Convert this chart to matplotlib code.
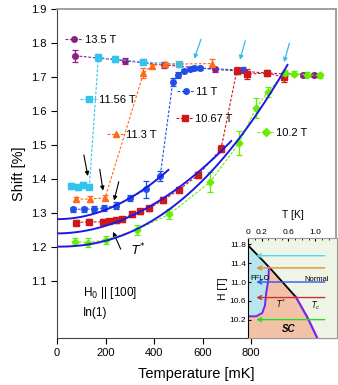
import numpy as np
import matplotlib
matplotlib.use('Agg')
import matplotlib.pyplot as plt
from matplotlib.lines import Line2D
from matplotlib.legend import Legend

plt.rcParams['font.family'] = ['Liberation Sans', 'DejaVu Sans']

# ---- data (T in mK, shift in %) ----
t_135 = [74, 280, 441, 652, 867, 1016, 1060]
s_135 = [1.762, 1.747, 1.735, 1.722, 1.711, 1.706, 1.704]
e_135 = [0.017, 0.008, 0.008, 0.007, 0.007, 0.006, 0.006]

t_1156 = [58, 88, 108, 133, 170, 239, 353, 503]
s_1156 = [1.378, 1.376, 1.381, 1.377, 1.757, 1.752, 1.744, 1.737]
e_1156 = [0.008, 0.008, 0.008, 0.008, 0.01, 0.008, 0.008, 0.008]

t_113 = [78, 136, 198, 356, 390, 445, 640]
s_113 = [1.340, 1.340, 1.344, 1.710, 1.733, 1.737, 1.739]
e_113 = [0.006, 0.008, 0.008, 0.015, 0.006, 0.006, 0.012]

t_11 = [67, 111, 154, 195, 243, 301, 367, 425, 477, 499, 525, 546, 566, 590, 765]
s_11 = [1.310, 1.310, 1.311, 1.314, 1.321, 1.343, 1.369, 1.408, 1.685, 1.705,
        1.717, 1.722, 1.725, 1.725, 1.720]
e_11 = [0.008, 0.008, 0.008, 0.008, 0.01, 0.01, 0.025, 0.015, 0.012, 0.01,
        0.006, 0.006, 0.006, 0.006, 0.01]

t_1067 = [78, 133, 188, 216, 243, 267, 309, 343, 379, 438, 503, 583, 676,
          741, 785, 866, 936]
s_1067 = [1.271, 1.273, 1.273, 1.276, 1.277, 1.281, 1.296, 1.304, 1.313, 1.337,
          1.368, 1.411, 1.488, 1.718, 1.708, 1.711, 1.699]
e_1067 = [0.008, 0.007, 0.007, 0.006, 0.006, 0.007, 0.008, 0.008, 0.008, 0.008,
          0.008, 0.008, 0.01, 0.01, 0.015, 0.008, 0.015]

t_102 = [72, 129, 201, 329, 462, 631, 751, 820, 869, 940, 978, 1030, 1085]
s_102 = [1.215, 1.212, 1.220, 1.250, 1.295, 1.390, 1.506, 1.608, 1.656,
         1.711, 1.709, 1.706, 1.704]
e_102 = [0.01, 0.012, 0.012, 0.015, 0.015, 0.03, 0.035, 0.03, 0.015,
         0.01, 0.008, 0.008, 0.008]

series = [
    (t_135, s_135, e_135, '13.5 T', '#8e1f7f', 'o'),
    (t_1156, s_1156, e_1156, '11.56 T', '#33c3f0', 's'),
    (t_113, s_113, e_113, '11.3 T', '#ff6a1a', '^'),
    (t_11, s_11, e_11, '11 T', '#1f4fe8', 'o'),
    (t_1067, s_1067, e_1067, '10.67 T', '#d01818', 's'),
    (t_102, s_102, e_102, '10.2 T', '#66ee00', 'D'),
]
# label anchor (axes fraction) for each series key
key_pos = [(0.029, 0.905), (0.082, 0.723), (0.179, 0.617),
           (0.429, 0.747), (0.425, 0.666), (0.716, 0.622)]

# T* fits: shift = s0 + ds*(T/tend)^n, drawn up to tend
fit_s0 = [1.281, 1.239, 1.200]
fit_ds = [0.145, 0.272, 0.535]
fit_tend = [459, 718, 950]
fit_n = [2.0, 1.95, 2.2]

# inset phase diagram (T in K, H in T)
tc_T = [0, 0.31, 0.51, 0.71, 0.88, 1.03]
tc_H = [11.78, 11.32, 11.0, 10.68, 10.25, 9.8]
ts_T = [0, 0.12, 0.21, 0.25, 0.27, 0.30, 0.31]
ts_H = [10.27, 10.27, 10.34, 10.5, 10.78, 11.03, 11.32]
fields = [11.56, 11.3, 11.0, 10.67, 10.2]
field_colors = ['#55d8ee', '#e09030', '#3355ee', '#cc3333', '#22dd22']

fig = plt.figure(figsize=(3.38, 3.85), dpi=100)
ax = fig.add_axes([0.169, 0.122, 0.825, 0.855])

for i, (t, s, e, lab, c, m) in enumerate(series):
    ax.errorbar(t, s, yerr=e, color=c, marker=m, ms=4 if m != 'D' else 3.5,
                ls=(0, (2.5, 1.5)), lw=0.8, elinewidth=0.9, capsize=2.5,
                capthick=0.9, zorder=3)
    h = Line2D([], [], color=c, marker=m, ms=4, ls=(0, (2.5, 1.5)), lw=0.8)
    leg = Legend(ax, [h], [lab], loc='center left', bbox_to_anchor=key_pos[i],
                 frameon=False, fontsize=8, handlelength=1.6,
                 handletextpad=0.15, borderpad=0, borderaxespad=0)
    ax.add_artist(leg)

for s0, ds, te, n in zip(fit_s0, fit_ds, fit_tend, fit_n):
    tt = np.linspace(0, te, 100)
    ax.plot(tt, s0 + ds * (tt / te) ** n, color='#1a1ae6', lw=1.4, zorder=4)

# black arrows toward T*
black_arrows = [((108, 1.478), (129, 1.400)), ((174, 1.436), (191, 1.357)),
                ((257, 1.399), (232, 1.328)), ((267, 1.185), (226, 1.251))]
for st, en in black_arrows:
    ax.annotate('', xy=en, xytext=st,
                arrowprops=dict(arrowstyle='-|>', color='k', lw=0.8,
                                mutation_scale=6))
cyan_arrows = [((597, 1.818), (562, 1.745)), ((779, 1.814), (751, 1.742)),
               ((961, 1.807), (933, 1.735))]
for st, en in cyan_arrows:
    ax.annotate('', xy=en, xytext=st,
                arrowprops=dict(arrowstyle='-|>', color='#33bbee', lw=0.9,
                                mutation_scale=6))

ax.text(334, 1.19, r'$T^{*}$', fontsize=9, ha='center', va='center')
ax.text(108, 1.063, r'H$_0$ || [100]', fontsize=8.5, va='center')
ax.text(108, 1.004, 'In(1)', fontsize=8.5, va='center')

ax.set_xlim(0, 1150)
ax.set_ylim(0.931, 1.9)
ax.set_xticks([0, 200, 400, 600, 800])
ax.set_yticks([1.1, 1.2, 1.3, 1.4, 1.5, 1.6, 1.7, 1.8, 1.9])
ax.tick_params(direction='out', length=4, labelsize=8)
ax.set_xlabel('Temperature [mK]', fontsize=10.5, labelpad=6)
ax.set_ylabel('Shift [%]', fontsize=10.5)
for sp in ['top', 'right']:
    ax.spines[sp].set_color('#999999')
    ax.spines[sp].set_linewidth(1.3)
for sp in ['left', 'bottom']:
    ax.spines[sp].set_color('#444444')

# ---- inset ----
axi = fig.add_axes([0.734, 0.121, 0.263, 0.26], facecolor='#eef5e6')
ffl_T = ts_T + tc_T[1::-1]
ffl_H = ts_H + tc_H[1::-1]
axi.fill(ffl_T, ffl_H, color='#b8e6ee', lw=0)
sc_T = [0] + ts_T + tc_T[2:]
sc_H = [9.8] + ts_H + tc_H[2:]
axi.fill(sc_T, sc_H, color='#f2c2a8', lw=0)
axi.plot(tc_T[:4], tc_H[:4], color='k', lw=1.3)
axi.plot(tc_T[3:], tc_H[3:], color='#7a22ee', lw=1.6)
axi.plot(ts_T, ts_H, color='#7a22ee', lw=1.4)
for h, c in zip(fields, field_colors):
    axi.annotate('', xy=(0.08, h), xytext=(1.18, h),
                 arrowprops=dict(arrowstyle='->', color=c, lw=1.0,
                                 mutation_scale=7))
axi.text(0.03, 11.07, 'FFLO', fontsize=5.5, va='center')
axi.text(0.83, 11.05, 'Normal', fontsize=5.5, va='center')
axi.text(0.41, 10.53, r'$T^{*}$', fontsize=5.5, va='center')
axi.text(0.93, 10.5, r'$T_c$', fontsize=5.5, va='center')
axi.text(0.6, 10.01, 'SC', fontsize=7, style='italic', weight='bold',
         ha='center', va='center')
axi.set_xlim(0, 1.32)
axi.set_ylim(9.8, 11.93)
axi.xaxis.tick_top()
axi.xaxis.set_label_position('top')
axi.set_xticks([0, 0.2, 0.6, 1.0])
axi.set_xticklabels(['0', '0.2', '0.6', '1.0'])
axi.set_xticks(np.arange(0, 1.3, 0.1), minor=True)
axi.set_yticks([10.2, 10.6, 11.0, 11.4, 11.8])
axi.tick_params(labelsize=6, length=2.5, pad=1.5, direction='in')
axi.tick_params(which='minor', length=1.5, direction='in')
axi.set_xlabel('T [K]', fontsize=7.5, labelpad=8)
axi.set_ylabel('H [T]', fontsize=7.5, labelpad=1)
axi.spines['left'].set_color('k')
for sp in ['top', 'right', 'bottom']:
    axi.spines[sp].set_color('#999999')

fig.savefig('out.png', dpi=100)
